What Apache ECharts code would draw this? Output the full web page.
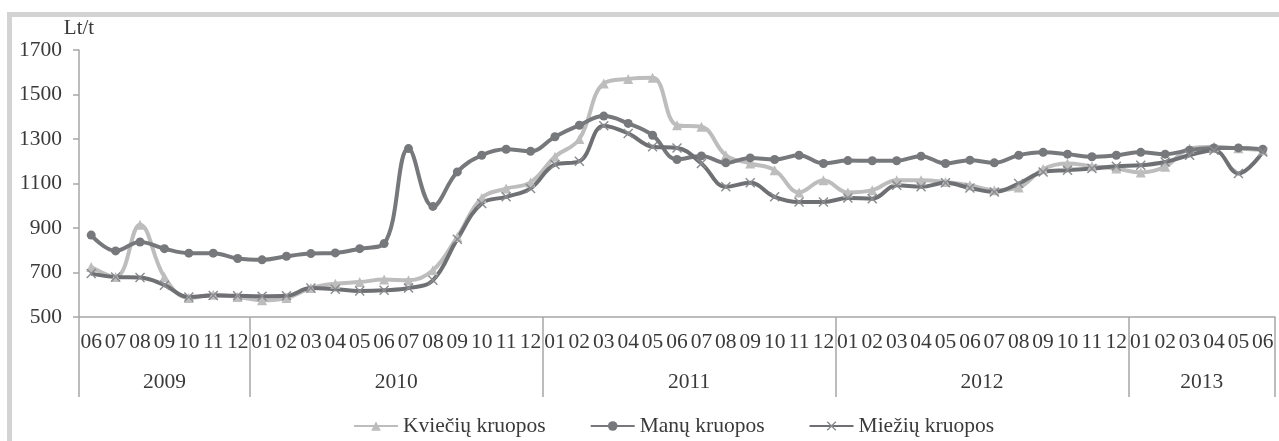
<!DOCTYPE html>
<html>
<head>
<meta charset="utf-8">
<script src="https://cdn.jsdelivr.net/npm/echarts@6/dist/echarts.min.js"></script>
<style>
  html, body { margin: 0; padding: 0; background: #fff; }
  #wrap { position: relative; width: 1279px; height: 441px; overflow: hidden; }
  #chart { position: absolute; left: 0; top: 0; width: 1279px; height: 441px; }
  #frame { position: absolute; left: 7px; top: 12px; width: 1300px; height: 460px;
           border-left: 5px solid #d3d3d3; border-top: 5px solid #d3d3d3; pointer-events: none; }
</style>
</head>
<body>
<div id="wrap">
  <div id="chart"></div>
  <div id="frame"></div>
</div>
<script>
var months = ['06','07','08','09','10','11','12',
    '01','02','03','04','05','06','07','08','09','10','11','12',
    '01','02','03','04','05','06','07','08','09','10','11','12',
    '01','02','03','04','05','06','07','08','09','10','11','12',
    '01','02','03','04','05','06'];
var years = ['2009', '2010', '2011', '2012', '2013'];
// year boundaries and middles, counted in months from 2009-06
var yearEdges = [0, 7, 19, 31, 43, 49];
var yearMids = [3.5, 13, 25, 37, 46];

var kvieciu = [725, 680, 915, 680, 585, 600, 590,
    575, 585, 630, 650, 657, 668, 665, 710, 860, 1035, 1077, 1105,
    1220, 1300, 1550, 1570, 1575, 1362, 1355, 1227, 1190, 1160, 1060, 1115,
    1060, 1070, 1115, 1115, 1107, 1092, 1070, 1082, 1165, 1190, 1178, 1167,
    1150, 1175, 1257, 1265, 1258, 1250];
var manu = [868, 797, 837, 807, 787, 787, 763,
    757, 773, 785, 788, 807, 830, 1257, 997, 1152, 1227, 1254, 1245,
    1310, 1362, 1403, 1370, 1317, 1208, 1224, 1193, 1215, 1208, 1227, 1190,
    1203, 1202, 1202, 1223, 1190, 1205, 1193, 1227, 1240, 1232, 1220, 1227,
    1240, 1232, 1250, 1260, 1260, 1254];
var meziu = [695, 680, 678, 643, 590, 597, 595,
    593, 595, 630, 625, 617, 620, 630, 665, 850, 1010, 1040, 1078,
    1185, 1200, 1360, 1325, 1265, 1260, 1190, 1085, 1103, 1040, 1017, 1017,
    1035, 1032, 1092, 1085, 1103, 1080, 1062, 1100, 1152, 1160, 1167, 1178,
    1182, 1197, 1227, 1250, 1145, 1242];

var font = '"Liberation Serif", "DejaVu Serif", serif';
var axisGray = '#a6a6a6';
var textCol = '#3a3a3a';
var crossPath = 'path://M0,1L1,0L5,4L9,0L10,1L6,5L10,9L9,10L5,6L1,10L0,9L4,5Z';

var myChart = echarts.init(document.getElementById('chart'));

var option = {
    animation: false,
    textStyle: { fontFamily: font },
    grid: { left: 79, right: 4, top: 50, bottom: 124 },
    legend: {
        top: 410,
        left: 348,
        itemWidth: 44,
        itemHeight: 12,
        itemGap: 44,
        textStyle: { fontFamily: font, fontSize: 21.5, color: textCol },
        data: ['Kviečių kruopos', 'Manų kruopos', 'Miežių kruopos']
    },
    xAxis: [
        {
            type: 'category',
            data: months,
            boundaryGap: true,
            axisLine: { lineStyle: { color: axisGray, width: 1.5 } },
            axisTick: { interval: 0, length: 40, lineStyle: { color: axisGray, width: 1.5 } },
            axisLabel: { interval: 0, margin: 14, fontSize: 21.5, color: textCol, fontFamily: font }
        },
        {
            type: 'value',
            min: 0,
            max: 49,
            position: 'bottom',
            axisLine: { show: false },
            splitLine: { show: false },
            axisTick: { show: true, length: 80, customValues: yearEdges,
                lineStyle: { color: axisGray, width: 1.5 } },
            axisLabel: {
                show: true,
                customValues: yearMids,
                margin: 54,
                fontSize: 21.5,
                color: textCol,
                fontFamily: font,
                formatter: function (v) {
                    return years[yearMids.indexOf(v)];
                }
            }
        }
    ],
    yAxis: {
        type: 'value',
        min: 500,
        max: 1700,
        interval: 200,
        name: 'Lt/t',
        nameLocation: 'end',
        nameGap: 11,
        nameTextStyle: { fontFamily: font, fontSize: 21, color: textCol, align: 'center' },
        axisLine: { show: true, lineStyle: { color: axisGray, width: 1.5 } },
        axisTick: { show: true, length: 6, lineStyle: { color: axisGray, width: 1.5 } },
        axisLabel: {
            margin: 17, fontSize: 21.5, color: textCol, fontFamily: font,
            formatter: function (v) { return String(v); }
        },
        splitLine: { show: false }
    },
    series: [
        {
            name: 'Kviečių kruopos',
            type: 'line',
            smooth: 0.4,
            data: kvieciu,
            symbol: 'triangle',
            symbolSize: 10,
            lineStyle: { color: '#bdbdbd', width: 4 },
            itemStyle: { color: '#bdbdbd' }
        },
        {
            name: 'Manų kruopos',
            type: 'line',
            smooth: 0.4,
            data: manu,
            symbol: 'circle',
            symbolSize: 9,
            lineStyle: { color: '#77787b', width: 4 },
            itemStyle: { color: '#77787b' }
        },
        {
            name: 'Miežių kruopos',
            type: 'line',
            smooth: 0.4,
            data: meziu,
            symbol: crossPath,
            symbolSize: 10,
            lineStyle: { color: '#6f7073', width: 4 },
            itemStyle: { color: '#8a8b8e' }
        }
    ]
};

myChart.setOption(option);
</script>
</body>
</html>
